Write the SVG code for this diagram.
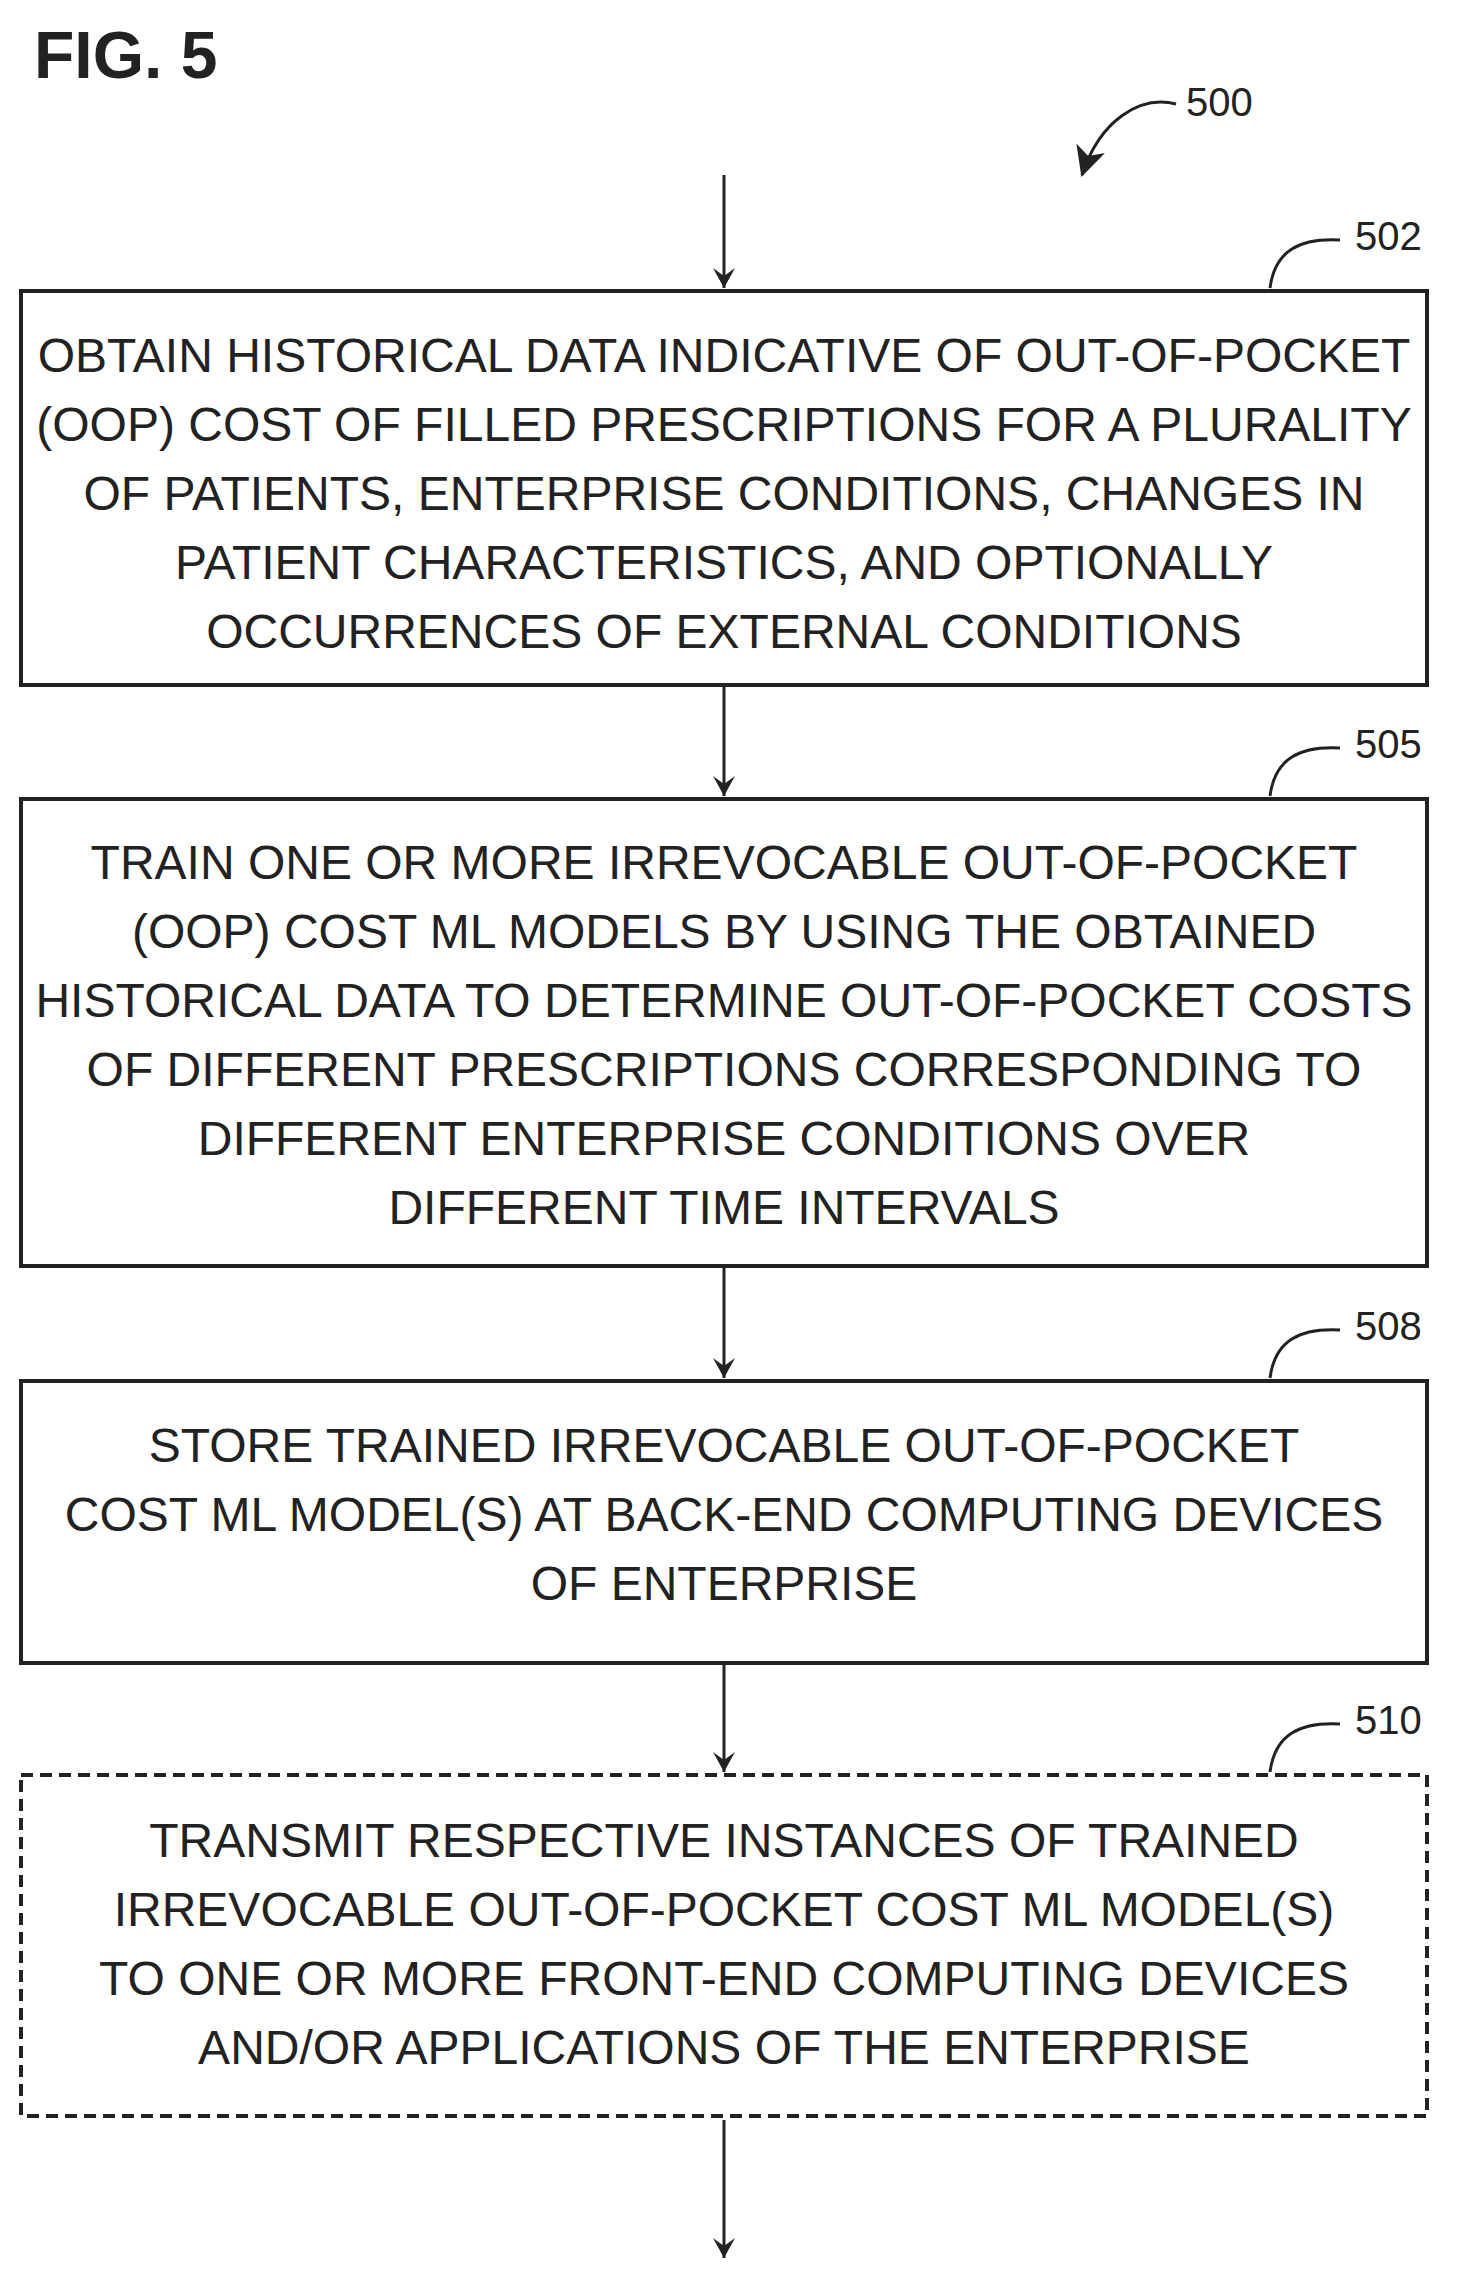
<svg xmlns="http://www.w3.org/2000/svg" width="1468" height="2281" viewBox="0 0 1468 2281">
<defs>
<marker id="ah" viewBox="0 0 22 22" refX="20" refY="11" markerWidth="22" markerHeight="22" markerUnits="userSpaceOnUse" orient="auto">
<path d="M0,0 L20,11 L0,22 L8,11 Z" fill="#222"/>
</marker>
<marker id="ah2" viewBox="0 0 30 30" refX="28" refY="15" markerWidth="30" markerHeight="30" markerUnits="userSpaceOnUse" orient="auto">
<path d="M0,0 L30,15 L0,30 L8,15 Z" fill="#222"/>
</marker>
<style>
.box{fill:#fff;stroke:#222;stroke-width:4}
.dash{stroke-dasharray:12 7}
.t{font-family:"Liberation Sans",Arial,sans-serif;font-size:48px;fill:#222;text-anchor:middle}
.ref{font-family:"Liberation Sans",Arial,sans-serif;font-size:40px;fill:#222}
.line{stroke:#222;stroke-width:3;fill:none}
</style>
</defs>
<rect width="1468" height="2281" fill="#fff"/>
<text x="34" y="78" font-family="Liberation Sans,Arial,sans-serif" font-size="66" font-weight="bold" fill="#222">FIG. 5</text>
<g id="ref500"><text class="ref" x="1186" y="116">500</text><path class="line" d="M1176,104 C1140,95 1100,120 1082,175" marker-end="url(#ah2)"/></g>
<g id="connectors">
<line class="line" x1="724" y1="175" x2="724" y2="288" marker-end="url(#ah)"/>
<line class="line" x1="724" y1="687" x2="724" y2="796" marker-end="url(#ah)"/>
<line class="line" x1="724" y1="1268" x2="724" y2="1378" marker-end="url(#ah)"/>
<line class="line" x1="724" y1="1665" x2="724" y2="1772" marker-end="url(#ah)"/>
<line class="line" x1="724" y1="2120" x2="724" y2="2258" marker-end="url(#ah)"/>
</g>
<g id="n502">
<rect class="box" x="21" y="291" width="1406" height="394"/>
<path class="line" d="M1270,288 C1275,250 1300,238 1340,240"/><text class="ref" x="1355" y="250">502</text>
<text class="t" x="724" y="372">OBTAIN HISTORICAL DATA INDICATIVE OF OUT-OF-POCKET</text>
<text class="t" x="724" y="441">(OOP) COST OF FILLED PRESCRIPTIONS FOR A PLURALITY</text>
<text class="t" x="724" y="510">OF PATIENTS, ENTERPRISE CONDITIONS, CHANGES IN</text>
<text class="t" x="724" y="579">PATIENT CHARACTERISTICS, AND OPTIONALLY</text>
<text class="t" x="724" y="648">OCCURRENCES OF EXTERNAL CONDITIONS</text>
</g>
<g id="n505">
<rect class="box" x="21" y="799" width="1406" height="467"/>
<path class="line" d="M1270,796 C1275,758 1300,746 1340,748"/><text class="ref" x="1355" y="758">505</text>
<text class="t" x="724" y="879">TRAIN ONE OR MORE IRREVOCABLE OUT-OF-POCKET</text>
<text class="t" x="724" y="948">(OOP) COST ML MODELS BY USING THE OBTAINED</text>
<text class="t" x="724" y="1017">HISTORICAL DATA TO DETERMINE OUT-OF-POCKET COSTS</text>
<text class="t" x="724" y="1086">OF DIFFERENT PRESCRIPTIONS CORRESPONDING TO</text>
<text class="t" x="724" y="1155">DIFFERENT ENTERPRISE CONDITIONS OVER</text>
<text class="t" x="724" y="1224">DIFFERENT TIME INTERVALS</text>
</g>
<g id="n508">
<rect class="box" x="21" y="1381" width="1406" height="282"/>
<path class="line" d="M1270,1378 C1275,1340 1300,1328 1340,1330"/><text class="ref" x="1355" y="1340">508</text>
<text class="t" x="724" y="1462">STORE TRAINED IRREVOCABLE OUT-OF-POCKET</text>
<text class="t" x="724" y="1531">COST ML MODEL(S) AT BACK-END COMPUTING DEVICES</text>
<text class="t" x="724" y="1600">OF ENTERPRISE</text>
</g>
<g id="n510">
<rect class="box dash" x="21" y="1775" width="1406" height="341"/>
<path class="line" d="M1270,1772 C1275,1734 1300,1722 1340,1724"/><text class="ref" x="1355" y="1734">510</text>
<text class="t" x="724" y="1857">TRANSMIT RESPECTIVE INSTANCES OF TRAINED</text>
<text class="t" x="724" y="1926">IRREVOCABLE OUT-OF-POCKET COST ML MODEL(S)</text>
<text class="t" x="724" y="1995">TO ONE OR MORE FRONT-END COMPUTING DEVICES</text>
<text class="t" x="724" y="2064">AND/OR APPLICATIONS OF THE ENTERPRISE</text>
</g>
</svg>
